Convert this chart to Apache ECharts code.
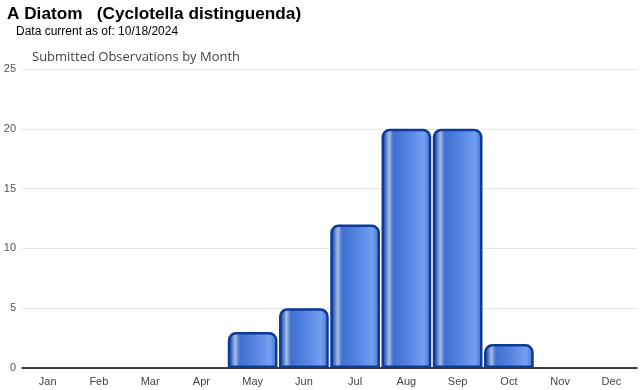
<!DOCTYPE html>
<html><head><meta charset="utf-8">
<script src="https://cdn.jsdelivr.net/npm/echarts@6/dist/echarts.min.js"></script>
<style>html,body{margin:0;padding:0;background:#fff}#c{width:640px;height:390px}</style>
</head><body><div id="c"></div>
<script>
const categories = ['Jan','Feb','Mar','Apr','May','Jun','Jul','Aug','Sep','Oct','Nov','Dec'];
const observations = [0,0,0,0,3,5,12,20,20,2,0,0];
const yTicks = [0,5,10,15,20,25];

const chart = echarts.init(document.getElementById('c'), null, {renderer:'canvas'});
const grad = new echarts.graphic.LinearGradient(0,0,1,0,[
  {offset:0, color:'#0f3f9f'},
  {offset:0.06, color:'#2f5fc0'},
  {offset:0.15, color:'#a7bde2'},
  {offset:0.24, color:'#3f6fd0'},
  {offset:0.55, color:'#5585e2'},
  {offset:0.85, color:'#74a0f2'},
  {offset:0.95, color:'#4f7fd8'},
  {offset:1, color:'#0f3f9f'}
]);
chart.setOption({
  animation:false,
  title:[
    {text:'A Diatom   (Cyclotella distinguenda)', left:7, top:6, padding:0, textStyle:{fontFamily:'Liberation Sans, Arial', fontSize:17.2, fontWeight:'bold', color:'#000'}},
    {text:'Data current as of: 10/18/2024', left:16, top:26, padding:0, textStyle:{fontFamily:'Liberation Sans, Arial', fontSize:12, fontWeight:'normal', color:'#000'}},
    {text:'Submitted Observations by Month', left:32, top:51, padding:0, textStyle:{fontFamily:'Open Sans, sans-serif', fontSize:13, fontWeight:'normal', color:'#444'}}
  ],
  grid:{left:22, right:3, top:69, bottom:22, containLabel:false},
  xAxis:{type:'category', data:categories,
    axisLine:{lineStyle:{color:'#000', width:1.5}},
    axisTick:{alignWithLabel:true, length:5, lineStyle:{color:'#ccc'}},
    axisLabel:{fontFamily:'Liberation Sans, Arial', fontSize:11, color:'#444', margin:8}},
  yAxis:{type:'value', min:0, max:25, interval:5,
    axisLine:{show:false}, axisTick:{show:false},
    splitLine:{lineStyle:{color:'#e6e6e6'}},
    axisLabel:{fontFamily:'Liberation Sans, Arial', fontSize:11, color:'#555', margin:6,
      formatter:v=>yTicks.includes(v)?String(v):''}},
  series:[{type:'bar', barCategoryGap:'3%',
    data:observations.map(v=>v===0?{value:v,itemStyle:{borderWidth:0}}:v),
    itemStyle:{color:grad, borderColor:'#0c3a96', borderWidth:2.5, borderRadius:[7,7,0,0]}}]
});
</script></body></html>
